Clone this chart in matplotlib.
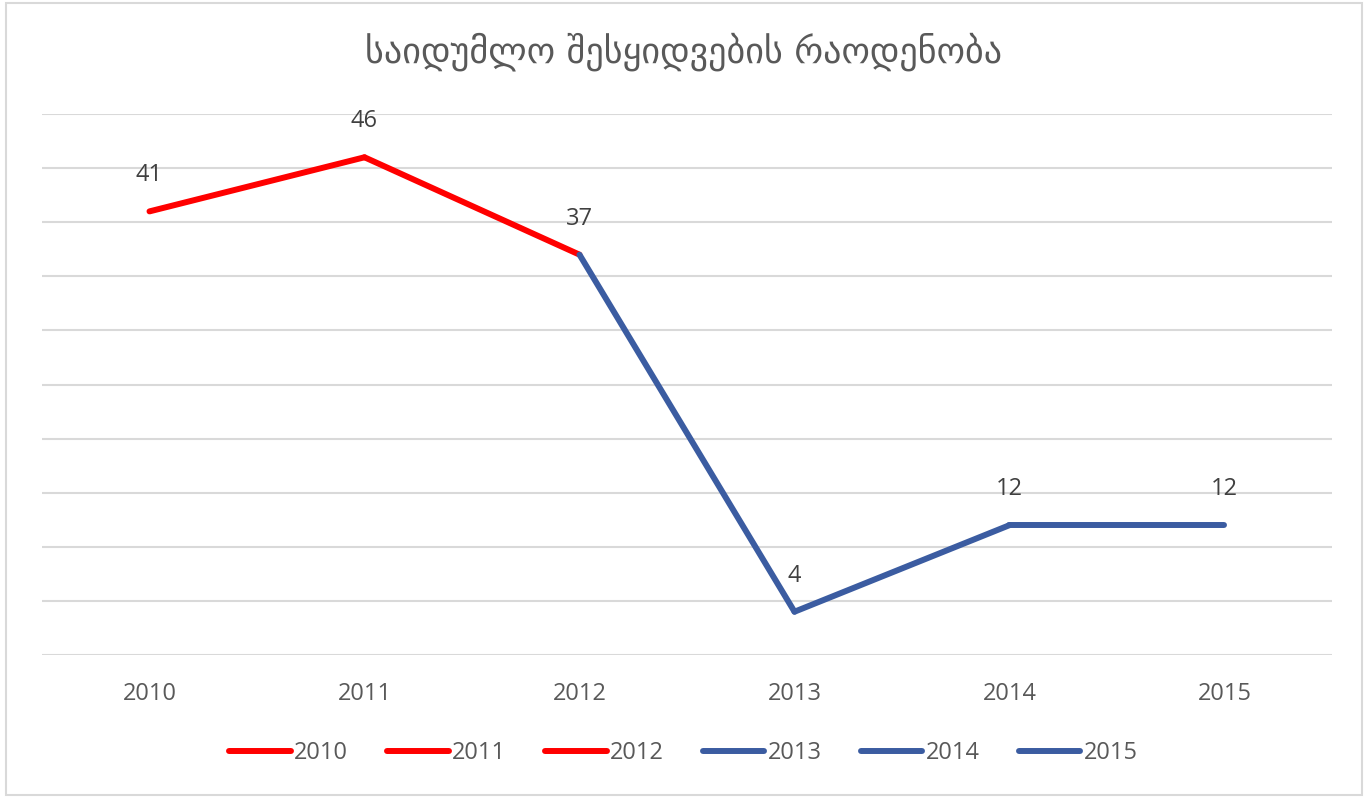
import matplotlib
matplotlib.use("Agg")
import matplotlib.pyplot as plt
from matplotlib.lines import Line2D
from matplotlib.patches import Rectangle

title = "საიდუმლო შესყიდვების რაოდენობა"
years = ["2010", "2011", "2012", "2013", "2014", "2015"]
values = [41, 46, 37, 4, 12, 12]
colors = ["#FF0000", "#FF0000", "#FF0000", "#3B5CA1", "#3B5CA1", "#3B5CA1"]

fig = plt.figure(figsize=(13.67, 7.98), dpi=100)
fig.patch.set_facecolor("white")
fig.add_artist(Rectangle((6/1367, 3/798), 1356/1367, 792/798, transform=fig.transFigure,
                         fill=False, edgecolor="#D9D9D9", linewidth=1.5))

ax = fig.add_axes([42/1367, 1 - 655/798, 1290/1367, (655 - 114)/798])
x = list(range(len(years)))
for i in range(len(x) - 1):
    ax.plot(x[i:i+2], values[i:i+2], color=colors[i+1], lw=4.3,
            solid_capstyle="round", solid_joinstyle="round", zorder=3)

ax.set_xlim(-0.5, len(years) - 0.5)
ax.set_ylim(0, 50)
ax.set_yticks(range(0, 51, 5))
ax.yaxis.grid(True, color="#D9D9D9", lw=1.5)
ax.set_axisbelow(True)
for s in ax.spines.values():
    s.set_visible(False)
ax.tick_params(axis="y", left=False, labelleft=False)
ax.tick_params(axis="x", bottom=False, pad=16)
ax.set_xticks(x)
ax.set_xticklabels(years, fontsize=17, color="#595959", family="Open Sans")

for xi, v in zip(x, values):
    ax.annotate(str(v), (xi, v), xytext=(0, 26), textcoords="offset points",
                ha="center", va="center", fontsize=17, color="#404040", family="Open Sans")

fig.text(0.5, 1 - 52/798, title, ha="center", va="center", fontsize=26,
         color="#595959", family="DejaVu Sans")

handles = [Line2D([0], [0], color=c, lw=4.3, solid_capstyle="round") for c in colors]
leg = fig.legend(handles, years, loc="center", bbox_to_anchor=(0.5, 1 - 753/798), ncol=6,
                 frameon=False, handlelength=2.6, handletextpad=0.15, columnspacing=1.65,
                 prop={"family": "Open Sans", "size": 17})
for t in leg.get_texts():
    t.set_color("#595959")

fig.savefig("out.png", dpi=100, facecolor="white")
